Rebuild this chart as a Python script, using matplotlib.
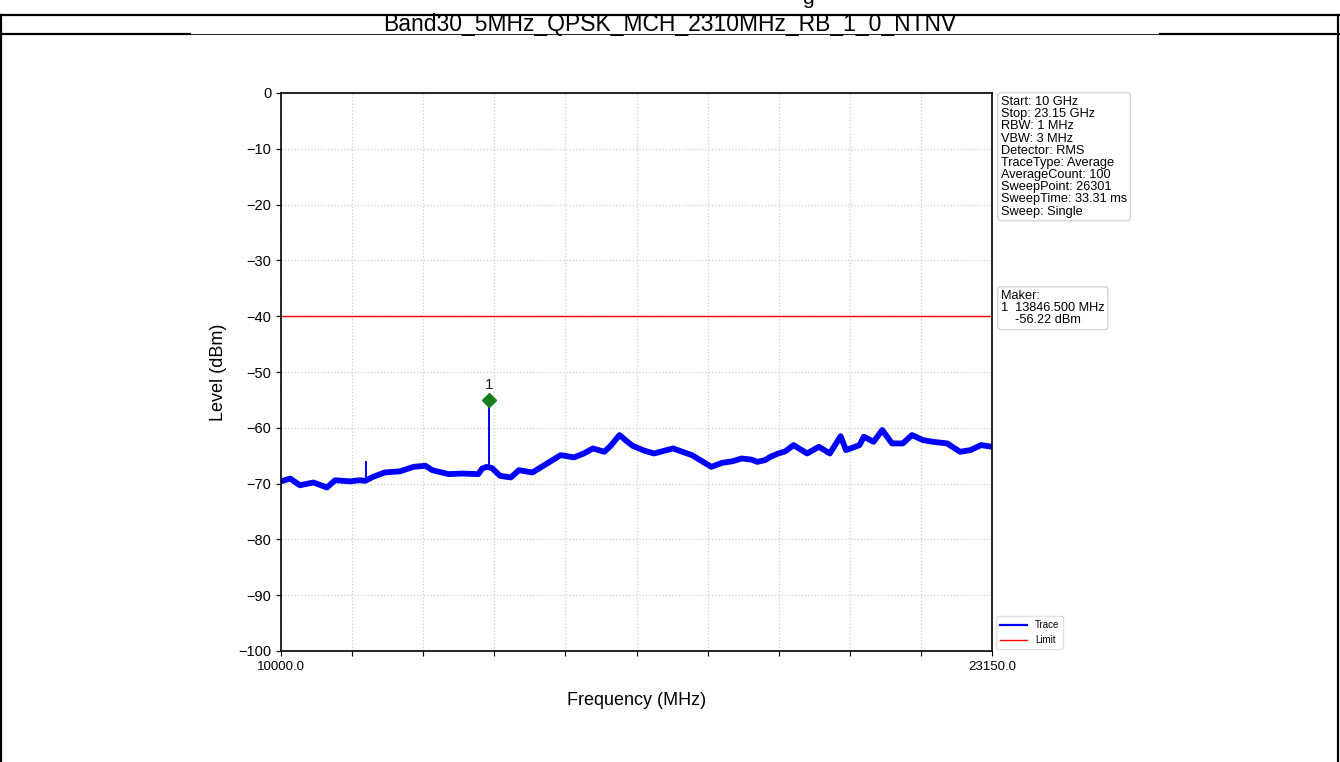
import matplotlib
matplotlib.use('Agg')
import matplotlib.pyplot as plt
from matplotlib.lines import Line2D

plt.rcParams['font.family'] = ['Liberation Sans', 'DejaVu Sans']

title = 'Band30_5MHz_QPSK_MCH_2310MHz_RB_1_0_NTNV'

# trace (MHz, dBm)
freq = [10000, 10170, 10350, 10600, 10850, 11000, 11280, 11450, 11560, 11700,
        11920, 12200, 12450, 12670, 12800, 13100, 13350, 13650, 13720, 13800,
        13900, 14050, 14250, 14400, 14650, 14920, 15170, 15420, 15600, 15770,
        15980, 16100, 16260, 16420, 16500, 16720, 16900, 17250, 17600, 17960,
        18150, 18350, 18520, 18700, 18810, 18950, 19050, 19200, 19330, 19480,
        19730, 19950, 20150, 20350, 20450, 20700, 20780, 20960, 21120, 21300,
        21500, 21670, 21870, 22050, 22320, 22560, 22750, 22950, 23150]
level = [-69.6, -69.1, -70.3, -69.8, -70.7, -69.4, -69.6, -69.4, -69.5, -68.8,
         -68.0, -67.8, -67.0, -66.8, -67.6, -68.3, -68.2, -68.3, -67.3, -67.0,
         -67.2, -68.6, -68.9, -67.6, -68.0, -66.4, -64.9, -65.3, -64.6, -63.7,
         -64.3, -63.2, -61.3, -62.6, -63.2, -64.1, -64.6, -63.7, -64.9, -67.0,
         -66.3, -66.0, -65.5, -65.7, -66.1, -65.8, -65.2, -64.6, -64.2, -63.1,
         -64.6, -63.4, -64.6, -61.5, -64.0, -63.1, -61.6, -62.5, -60.4, -62.8,
         -62.8, -61.3, -62.2, -62.5, -62.8, -64.3, -64.0, -63.1, -63.4]

# narrow spikes on the trace
spike_freq = [11566, 13846.5]
spike_base = [-69.4, -67.2]
spike_top = [-66.1, -55.0]

limit = -40
marker_freq = 13846.5
marker_level = -55.0

info_text = ('Start: 10 GHz\nStop: 23.15 GHz\nRBW: 1 MHz\nVBW: 3 MHz\n'
             'Detector: RMS\nTraceType: Average\nAverageCount: 100\n'
             'SweepPoint: 26301\nSweepTime: 33.31 ms\nSweep: Single')
marker_text = 'Maker:\n1  13846.500 MHz\n    -56.22 dBm'

W, H = 1340, 762
fig = plt.figure(figsize=(W / 100, H / 100), dpi=100)

# document table around the chart
def hline(y, x0, x1, lw):
    fig.add_artist(Line2D([x0 / W, x1 / W], [1 - y / H, 1 - y / H], color='black', lw=lw))

def vline(x, y0, y1, lw):
    fig.add_artist(Line2D([x / W, x / W], [1 - y0 / H, 1 - y1 / H], color='black', lw=lw))

hline(15, 0, W, 1.6)
hline(33.5, 0, 190, 1.6)
hline(33.5, 1160, W, 1.6)
hline(33.5, 190, 1160, 0.6)
vline(1, 15, H, 1.6)
vline(1338, 15, H, 1.6)
fig.text(670 / W, 1 - 24.5 / H, title, ha='center', va='center', fontsize=16.5)
fig.text(808 / W, 1 - 4 / H, 'g', ha='center', va='baseline', fontsize=15)

ax = fig.add_axes([281 / W, 1 - 651 / H, 711 / W, 558 / H])
ax.plot(freq, level, color='#0000ff', lw=4.2, solid_joinstyle='round')
for f, b, t in zip(spike_freq, spike_base, spike_top):
    ax.plot([f, f], [b, t], color='#0000ff', lw=1.4)
ax.axhline(limit, color='red', lw=1.0)
ax.plot(marker_freq, marker_level, 'D', color='#1a7f1a', ms=7)
ax.text(marker_freq, marker_level + 1.4, '1', ha='center', va='bottom', fontsize=11, color='#222222')

ax.set_xlim(10000, 23150)
ax.set_ylim(-100, 0)
xt = [10000 + 1315 * i for i in range(11)]
ax.set_xticks(xt)
ax.set_xticklabels(['10000.0'] + [''] * 9 + ['23150.0'], fontsize=9.5)
ax.set_yticks(range(-100, 1, 10))
ax.tick_params(axis='y', labelsize=10.5)
ax.grid(True, color='#cfcfcf', linestyle=':', lw=0.9)
ax.set_xlabel('Frequency (MHz)', fontsize=13, labelpad=14)
ax.set_ylabel('Level (dBm)', fontsize=13, labelpad=8)
for s in ax.spines.values():
    s.set_linewidth(1.2)

box = dict(boxstyle='round,pad=0.25', fc='white', ec='#cccccc', lw=0.8)
fig.text(1001 / W, 1 - 96 / H, info_text, ha='left', va='top', fontsize=9.2,
         linespacing=1.02, bbox=box)
fig.text(1001 / W, 1 - 290 / H, marker_text, ha='left', va='top', fontsize=9.2,
         linespacing=1.02, bbox=box)

handles = [Line2D([], [], color='#0000ff', lw=1.6), Line2D([], [], color='red', lw=1.0)]
ax.legend(handles, ['Trace', 'Limit'], loc='lower left', bbox_to_anchor=(1.003, 0.0),
          fontsize=7, frameon=True, edgecolor='#dddddd', handlelength=2.8,
          borderaxespad=0.2)

fig.savefig('out.png', dpi=100)
